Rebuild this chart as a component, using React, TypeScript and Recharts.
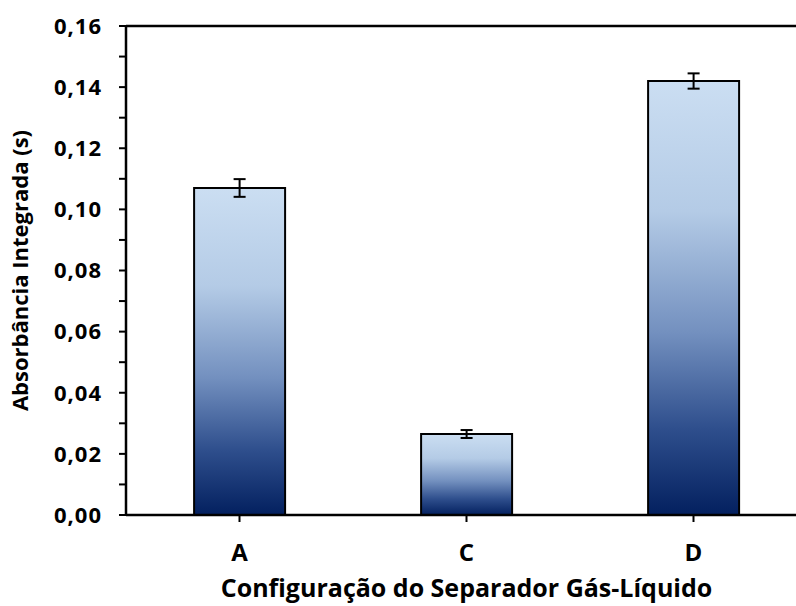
import React from "react";
import {
  BarChart,
  Bar,
  XAxis,
  YAxis,
  ErrorBar,
  ReferenceLine,
  Label,
} from "recharts";

const configs = ["A", "C", "D"];
const absorbance = [0.107, 0.0265, 0.142];
const deviation = [0.0029, 0.0013, 0.0025];
const yTicks = [0, 0.01, 0.02, 0.03, 0.04, 0.05, 0.06, 0.07, 0.08, 0.09, 0.1, 0.11, 0.12, 0.13, 0.14, 0.15, 0.16];

const data = configs.map((name, i) => ({
  name,
  value: absorbance[i],
  err: deviation[i],
}));

const FONT = "'Open Sans', Lato, sans-serif";

// only even hundredths get a label, the rest are minor ticks
const fmtY = (v: number) =>
  Math.round(v * 100) % 2 === 0 ? v.toFixed(2).replace(".", ",") : "";

export default function App() {
  return (
    <div
      style={{
        position: "fixed",
        left: 0,
        top: 0,
        width: 796,
        height: 606,
        overflow: "hidden",
        background: "#fff",
      }}
    >
      <BarChart
        width={830}
        height={606}
        data={data}
        margin={{ top: 26, right: 23, left: 0, bottom: 0 }}
        barCategoryGap="30%"
      >
        <defs>
          <linearGradient id="barFill" x1="0" y1="0" x2="0" y2="1">
            <stop offset="0%" stopColor="#cbdef2" />
            <stop offset="30%" stopColor="#b4cbe6" />
            <stop offset="58%" stopColor="#7390bf" />
            <stop offset="80%" stopColor="#2f4f8d" />
            <stop offset="100%" stopColor="#03205f" />
          </linearGradient>
        </defs>
        <XAxis
          dataKey="name"
          height={91}
          axisLine={{ stroke: "#000", strokeWidth: 2.5 }}
          tickLine={{ stroke: "#000", strokeWidth: 2 }}
          tickSize={7}
          tickMargin={22}
          tick={{ fill: "#000", fontSize: 24, fontWeight: 700, fontFamily: FONT }}
        >
          <Label
            value="Configuração do Separador Gás-Líquido"
            position="insideBottom"
            offset={9}
            style={{ fill: "#000", fontSize: 25, fontWeight: 700, fontFamily: FONT }}
          />
        </XAxis>
        <YAxis
          width={126}
          domain={[0, 0.16]}
          ticks={yTicks}
          interval={0}
          tickFormatter={fmtY}
          axisLine={{ stroke: "#000", strokeWidth: 2.5 }}
          tickLine={{ stroke: "#000", strokeWidth: 2 }}
          tickSize={7}
          tickMargin={17}
          tick={{ fill: "#000", fontSize: 22, fontWeight: 700, fontFamily: FONT, letterSpacing: 1 }}
        >
          <Label
            value="Absorbância Integrada (s)"
            angle={-90}
            position="insideLeft"
            offset={20}
            style={{ textAnchor: "middle", fill: "#000", fontSize: 22, fontWeight: 700, fontFamily: FONT }}
          />
        </YAxis>
        <ReferenceLine y={0.16} stroke="#000" strokeWidth={2.5} />
        <Bar
          dataKey="value"
          fill="url(#barFill)"
          stroke="#000"
          strokeWidth={2}
          isAnimationActive={false}
        >
          <ErrorBar dataKey="err" width={6} stroke="#000" strokeWidth={2} />
        </Bar>
      </BarChart>
    </div>
  );
}
